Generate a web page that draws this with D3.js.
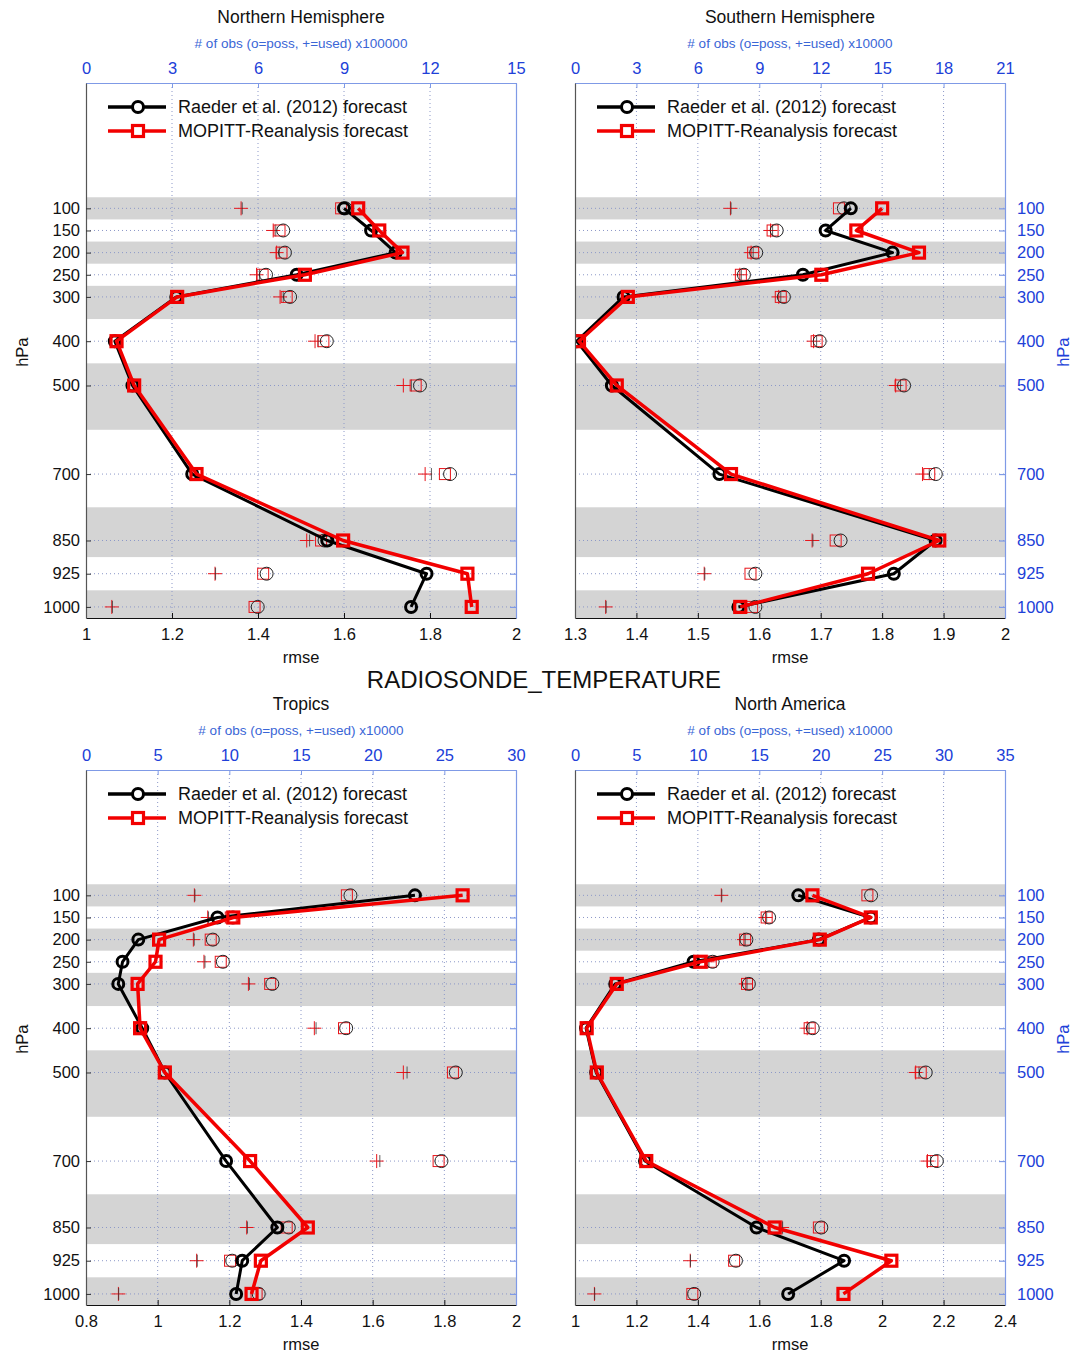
<!DOCTYPE html>
<html>
<head>
<meta charset="utf-8">
<script src="https://cdn.jsdelivr.net/npm/d3@7"></script>
<style>
  html, body { margin: 0; padding: 0; background: #fff; }
  svg { display: block; font-family: "Liberation Sans", Arial, sans-serif; }
</style>
</head>
<body>
<svg id="chart" width="1084" height="1353"></svg>
<script>
// Pressure levels (hPa) and the shaded layers around every other level
const levels = [100, 150, 200, 250, 300, 400, 500, 700, 850, 925, 1000];
const shadedLayers = [[75, 125], [175, 225], [275, 350], [450, 600], [775, 887.5], [962.5, 1025]];
const seriesNames = ["Raeder et al. (2012) forecast", "MOPITT-Reanalysis forecast"];

// Northern Hemisphere: rmse and observation counts (x100000)
const nhRaeder = [1.600, 1.663, 1.720, 1.490, 1.210, 1.067, 1.108, 1.247, 1.561, 1.792, 1.756];
const nhMopitt = [1.633, 1.682, 1.736, 1.509, 1.212, 1.071, 1.112, 1.257, 1.598, 1.887, 1.897];
const nhUsedMopitt = [5.41, 6.53, 6.65, 5.95, 6.77, 7.99, 11.07, 11.83, 7.70, 4.50, 0.90];
const nhUsedRaeder = [5.45, 6.62, 6.74, 6.05, 6.88, 8.10, 11.35, 12.05, 7.80, 4.52, 0.92];
const nhPossMopitt = [8.90, 6.75, 6.82, 6.16, 7.00, 8.28, 11.50, 12.52, 8.20, 6.18, 5.88];
const nhPossRaeder = [9.05, 6.88, 6.94, 6.28, 7.12, 8.40, 11.65, 12.70, 8.32, 6.30, 5.99];

// Southern Hemisphere: rmse and observation counts (x10000)
const shRaeder = [1.749, 1.708, 1.817, 1.671, 1.379, 1.303, 1.360, 1.535, 1.887, 1.819, 1.566];
const shMopitt = [1.800, 1.758, 1.860, 1.701, 1.386, 1.3065, 1.368, 1.554, 1.893, 1.777, 1.569];
const shUsedMopitt = [7.59, 9.55, 8.60, 8.05, 9.95, 11.65, 15.66, 16.97, 11.58, 6.31, 1.50];
const shUsedRaeder = [7.62, 9.65, 8.70, 8.12, 10.05, 11.80, 15.90, 17.30, 11.62, 6.34, 1.52];
const shPossMopitt = [12.89, 9.65, 8.70, 8.10, 10.05, 11.80, 15.90, 17.30, 12.73, 8.57, 8.65];
const shPossRaeder = [13.13, 9.85, 8.85, 8.25, 10.20, 11.95, 16.07, 17.62, 12.97, 8.81, 8.81];

// Tropics: rmse and observation counts (x10000)
const trRaeder = [1.718, 1.167, 0.946, 0.902, 0.890, 0.957, 1.020, 1.191, 1.334, 1.236, 1.219];
const trMopitt = [1.851, 1.211, 1.004, 0.994, 0.944, 0.951, 1.020, 1.258, 1.419, 1.288, 1.262];
const trUsedMopitt = [7.56, 8.49, 7.49, 8.23, 11.33, 15.93, 22.14, 20.28, 11.21, 7.72, 2.26];
const trUsedRaeder = [7.60, 8.55, 7.55, 8.30, 11.40, 16.05, 22.40, 20.50, 11.26, 7.76, 2.28];
const trPossMopitt = [18.20, 10.10, 8.70, 9.40, 12.85, 18.00, 25.60, 24.60, 14.00, 10.05, 11.90];
const trPossRaeder = [18.45, 10.25, 8.85, 9.55, 13.00, 18.15, 25.80, 24.80, 14.15, 10.20, 12.05];

// North America: rmse and observation counts (x10000)
const naRaeder = [1.727, 1.963, 1.794, 1.386, 1.131, 1.036, 1.069, 1.228, 1.591, 1.876, 1.694];
const naMopitt = [1.773, 1.963, 1.797, 1.408, 1.136, 1.038, 1.071, 1.232, 1.650, 2.030, 1.874];
const naUsedMopitt = [11.91, 15.50, 13.75, 10.80, 13.90, 18.90, 27.73, 28.69, 16.86, 9.38, 1.58];
const naUsedRaeder = [11.95, 15.60, 13.85, 10.90, 14.00, 19.05, 28.00, 28.95, 16.90, 9.40, 1.60];
const naPossMopitt = [23.80, 15.60, 13.85, 11.05, 14.00, 19.10, 28.14, 29.09, 19.85, 12.95, 9.55];
const naPossRaeder = [24.10, 15.80, 13.95, 11.20, 14.15, 19.35, 28.55, 29.45, 20.05, 13.10, 9.70];

// Axis ticks for each region
const nhRmseTicks = [1, 1.2, 1.4, 1.6, 1.8, 2];
const shRmseTicks = [1.3, 1.4, 1.5, 1.6, 1.7, 1.8, 1.9, 2];
const trRmseTicks = [0.8, 1, 1.2, 1.4, 1.6, 1.8, 2];
const naRmseTicks = [1, 1.2, 1.4, 1.6, 1.8, 2, 2.2, 2.4];
const nhCountTicks = [0, 3, 6, 9, 12, 15];
const shCountTicks = [0, 3, 6, 9, 12, 15, 18, 21];
const trCountTicks = [0, 5, 10, 15, 20, 25, 30];
const naCountTicks = [0, 5, 10, 15, 20, 25, 30, 35];

const panels = [
  { title: "Northern Hemisphere", scaleNote: "x100000", left: 86, top: 83, ySide: "left",
    rmseTicks: nhRmseTicks, countTicks: nhCountTicks,
    raeder: nhRaeder, mopitt: nhMopitt,
    usedA: nhUsedRaeder, usedB: nhUsedMopitt, possA: nhPossRaeder, possB: nhPossMopitt },
  { title: "Southern Hemisphere", scaleNote: "x10000", left: 575, top: 83, ySide: "right",
    rmseTicks: shRmseTicks, countTicks: shCountTicks,
    raeder: shRaeder, mopitt: shMopitt,
    usedA: shUsedRaeder, usedB: shUsedMopitt, possA: shPossRaeder, possB: shPossMopitt },
  { title: "Tropics", scaleNote: "x10000", left: 86, top: 770, ySide: "left",
    rmseTicks: trRmseTicks, countTicks: trCountTicks,
    raeder: trRaeder, mopitt: trMopitt,
    usedA: trUsedRaeder, usedB: trUsedMopitt, possA: trPossRaeder, possB: trPossMopitt },
  { title: "North America", scaleNote: "x10000", left: 575, top: 770, ySide: "right",
    rmseTicks: naRmseTicks, countTicks: naCountTicks,
    raeder: naRaeder, mopitt: naMopitt,
    usedA: naUsedRaeder, usedB: naUsedMopitt, possA: naPossRaeder, possB: naPossMopitt }
];

const W = 430, H = 535;
const FONT = "'Liberation Sans', Arial, sans-serif";
const BLUE = "#2040d8", BLUE_FRAME = "#7f9ae6", GRID = "#8c98c8";
const svg = d3.select("#chart");

svg.append("text")
  .attr("x", 544).attr("y", 688)
  .attr("text-anchor", "middle")
  .attr("font-size", 24).attr("fill", "#111")
  .text("RADIOSONDE_TEMPERATURE");

panels.forEach((p, pi) => {
  const g = svg.append("g").attr("transform", `translate(${p.left},${p.top})`);
  const rmseDomain = d3.extent(p.rmseTicks);
  const countDomain = d3.extent(p.countTicks);
  const x = d3.scaleLinear().domain(rmseDomain).range([0, W]);
  const xc = d3.scaleLinear().domain(countDomain).range([0, W]);
  const y = d3.scaleLinear().domain([-183, 1025]).range([0, H]);

  const clipId = "clip" + pi;
  g.append("clipPath").attr("id", clipId)
    .append("rect").attr("width", W).attr("height", H);

  // shaded layers
  g.append("g").selectAll("rect").data(shadedLayers).join("rect")
    .attr("x", 0).attr("width", W)
    .attr("y", d => y(d[0]))
    .attr("height", d => y(d[1]) - y(d[0]))
    .attr("fill", "#d4d4d4");

  // dotted grid
  const grid = g.append("g").attr("stroke", GRID).attr("stroke-width", 1)
    .attr("stroke-dasharray", "1,3");
  grid.selectAll("line.h").data(levels).join("line").attr("class", "h")
    .attr("x1", 0).attr("x2", W).attr("y1", d => y(d)).attr("y2", d => y(d));
  grid.selectAll("line.v").data(p.rmseTicks.slice(1, -1)).join("line").attr("class", "v")
    .attr("y1", 0).attr("y2", H).attr("x1", d => x(d)).attr("x2", d => x(d));

  const plot = g.append("g").attr("clip-path", `url(#${clipId})`);

  // observation counts: '+' used, 'o'/'□' possible
  const counts = plot.append("g");
  counts.selectAll(null).data(p.usedB).join("path")
    .attr("d", (v, i) => {
      const cx = xc(v), cy = y(levels[i]);
      return `M${cx - 7},${cy}H${cx + 7}M${cx},${cy - 7}V${cy + 7}`;
    })
    .attr("stroke", "#e8141a").attr("stroke-width", 1).attr("fill", "none");
  counts.selectAll(null).data(p.usedA).join("line")
    .attr("x1", v => xc(v)).attr("x2", v => xc(v))
    .attr("y1", (v, i) => y(levels[i]) - 6).attr("y2", (v, i) => y(levels[i]) + 6)
    .attr("stroke", "#333").attr("stroke-width", 0.8);
  counts.selectAll(null).data(p.possB).join("rect")
    .attr("x", v => xc(v) - 5.5).attr("y", (v, i) => y(levels[i]) - 5.5)
    .attr("width", 11).attr("height", 11)
    .attr("fill", "none").attr("stroke", "#e8141a").attr("stroke-width", 1);
  counts.selectAll(null).data(p.possA).join("circle")
    .attr("cx", v => xc(v)).attr("cy", (v, i) => y(levels[i])).attr("r", 6.5)
    .attr("fill", "none").attr("stroke", "#222").attr("stroke-width", 1);

  // rmse profiles
  const line = d3.line().x(d => x(d[0])).y(d => y(d[1]));
  const raederPts = p.raeder.map((v, i) => [v, levels[i]]);
  const mopittPts = p.mopitt.map((v, i) => [v, levels[i]]);

  plot.append("path").datum(raederPts).attr("d", line)
    .attr("fill", "none").attr("stroke", "#000").attr("stroke-width", 3)
    .attr("stroke-linejoin", "round");
  plot.append("g").selectAll("circle").data(raederPts).join("circle")
    .attr("cx", d => x(d[0])).attr("cy", d => y(d[1])).attr("r", 5.5)
    .attr("fill", "none").attr("stroke", "#000").attr("stroke-width", 3);

  plot.append("path").datum(mopittPts).attr("d", line)
    .attr("fill", "none").attr("stroke", "#f20000").attr("stroke-width", 3.5)
    .attr("stroke-linejoin", "round");
  plot.append("g").selectAll("rect").data(mopittPts).join("rect")
    .attr("x", d => x(d[0]) - 5.5).attr("y", d => y(d[1]) - 5.5)
    .attr("width", 11).attr("height", 11)
    .attr("fill", "none").attr("stroke", "#f20000").attr("stroke-width", 3.2);

  // legend
  const lg = g.append("g").attr("transform", "translate(22,24)");
  [0, 1].forEach(k => {
    const ly = k * 24;
    const col = k === 0 ? "#000" : "#f20000";
    lg.append("line").attr("x1", 0).attr("x2", 58).attr("y1", ly).attr("y2", ly)
      .attr("stroke", col).attr("stroke-width", 3.5);
    if (k === 0) {
      lg.append("circle").attr("cx", 30).attr("cy", ly).attr("r", 5.5)
        .attr("fill", "#fff").attr("stroke", col).attr("stroke-width", 3);
    } else {
      lg.append("rect").attr("x", 24.5).attr("y", ly - 5.5).attr("width", 11).attr("height", 11)
        .attr("fill", "#fff").attr("stroke", col).attr("stroke-width", 3.2);
    }
    lg.append("text").attr("x", 70).attr("y", ly + 6)
      .attr("font-size", 18).attr("fill", "#111").text(seriesNames[k]);
  });

  // axes
  const fmt = d => String(+d.toFixed(1));
  const bottom = g.append("g").attr("transform", `translate(0,${H})`)
    .call(d3.axisBottom(x).tickValues(p.rmseTicks).tickFormat(fmt).tickSizeInner(-5).tickSizeOuter(0).tickPadding(10));
  bottom.select(".domain").attr("stroke", "#111").attr("stroke-width", 1.2);
  bottom.selectAll(".tick line").attr("stroke", "#111");
  bottom.selectAll("text").attr("font-size", 16.5).attr("fill", "#111").attr("font-family", FONT);

  const top = g.append("g")
    .call(d3.axisTop(xc).tickValues(p.countTicks).tickSizeInner(-5).tickSizeOuter(0).tickPadding(9));
  top.select(".domain").attr("stroke", BLUE_FRAME).attr("stroke-width", 1.2);
  top.selectAll(".tick line").attr("stroke", BLUE_FRAME);
  top.selectAll("text").attr("font-size", 16.5).attr("fill", BLUE).attr("font-family", FONT);

  const left = g.append("g")
    .call(d3.axisLeft(y).tickValues(levels).tickSizeInner(p.ySide === "left" ? -5 : 0).tickSizeOuter(0).tickPadding(6)
      .tickFormat(p.ySide === "left" ? d3.format("d") : () => ""));
  left.select(".domain").attr("stroke", "#555").attr("stroke-width", 1.2);
  left.selectAll(".tick line").attr("stroke", "#333");
  left.selectAll("text").attr("font-size", 16.5).attr("fill", "#111").attr("font-family", FONT);

  const right = g.append("g").attr("transform", `translate(${W},0)`)
    .call(d3.axisRight(y).tickValues(levels).tickSizeInner(-6).tickSizeOuter(0).tickPadding(12)
      .tickFormat(p.ySide === "right" ? d3.format("d") : () => ""));
  right.select(".domain").attr("stroke", BLUE_FRAME).attr("stroke-width", 1.2);
  right.selectAll(".tick line").attr("stroke", BLUE_FRAME).attr("stroke-width", 1.2);
  right.selectAll("text").attr("font-size", 16.5).attr("fill", BLUE).attr("font-family", FONT);

  // titles and axis names
  g.append("text").attr("x", W / 2).attr("y", -60)
    .attr("text-anchor", "middle").attr("font-size", 17.5).attr("fill", "#111").text(p.title);
  g.append("text").attr("x", W / 2).attr("y", -35)
    .attr("text-anchor", "middle").attr("font-size", 13.5).attr("fill", "#3a66d6")
    .text("# of obs (o=poss, +=used) " + p.scaleNote);
  g.append("text").attr("x", W / 2).attr("y", H + 45)
    .attr("text-anchor", "middle").attr("font-size", 16.5).attr("fill", "#111").text("rmse");
  const yLabelX = p.ySide === "left" ? -58 : W + 64;
  g.append("text")
    .attr("transform", `translate(${yLabelX},${y(400) + 11}) rotate(-90)`)
    .attr("text-anchor", "middle").attr("font-size", 16.5)
    .attr("fill", p.ySide === "left" ? "#111" : BLUE).text("hPa");
});
</script>
</body>
</html>
